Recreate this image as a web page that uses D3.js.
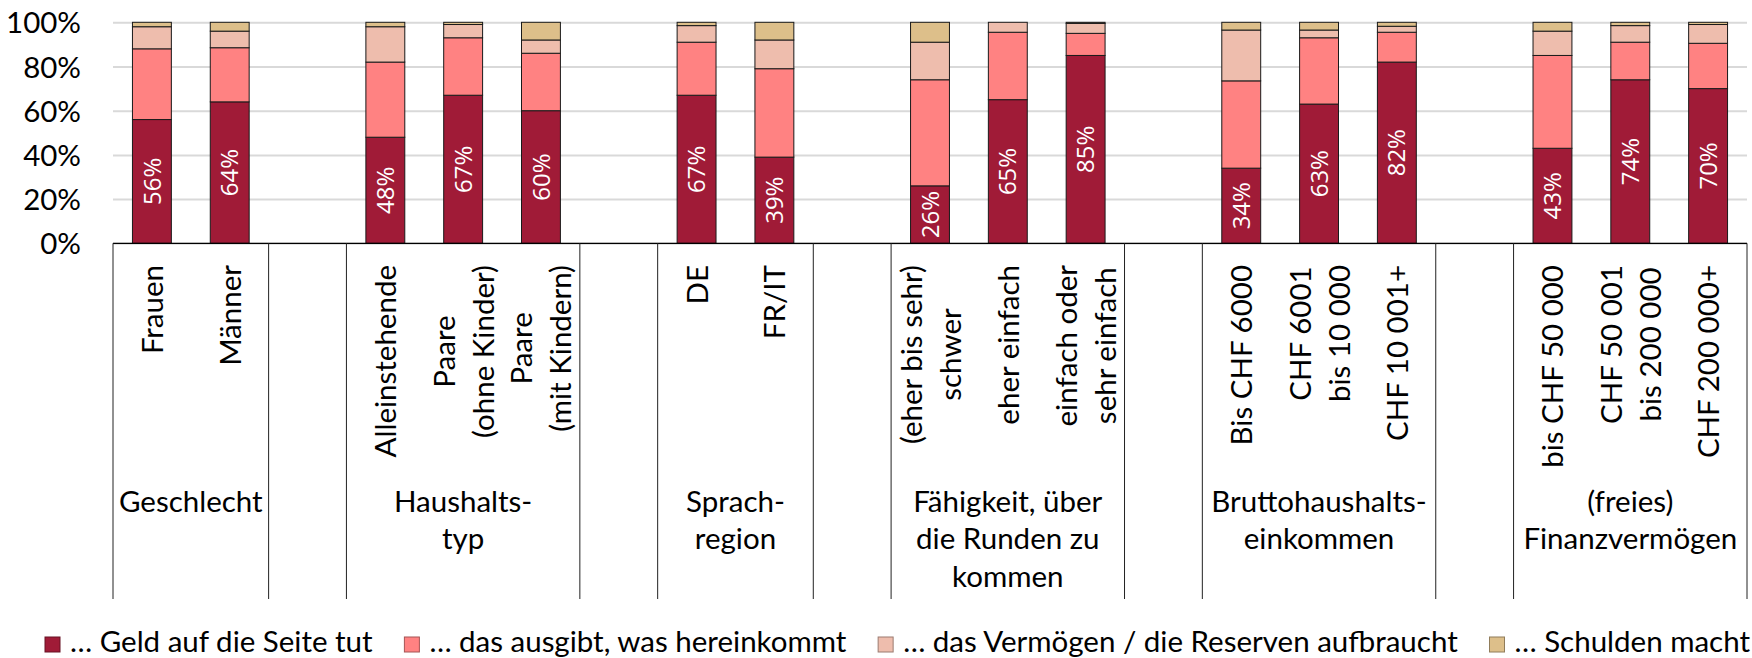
<!DOCTYPE html>
<html>
<head>
<meta charset="utf-8">
<script src="https://cdn.jsdelivr.net/npm/d3@7"></script>
<style>
  body { margin: 0; background: #fff; }
  svg text { font-family: Lato, "Noto Sans", sans-serif; fill: #000; }
</style>
</head>
<body>
<div id="chart"></div>
<script>
const width = 1752;
const height = 658;

// categories, "" = spacer column between groups, "|" = line break
const categories = [
  "Frauen", "Männer", "",
  "Alleinstehende", "Paare|(ohne Kinder)", "Paare|(mit Kindern)", "",
  "DE", "FR/IT", "",
  "(eher bis sehr)|schwer", "eher einfach", "einfach oder|sehr einfach", "",
  "Bis CHF 6000", "CHF 6001|bis 10 000", "CHF 10 001+", "",
  "bis CHF 50 000", "CHF 50 001|bis 200 000", "CHF 200 000+"
];
const categoryGroup = [0, 0, -1, 1, 1, 1, -1, 2, 2, -1, 3, 3, 3, -1, 4, 4, 4, -1, 5, 5, 5];
const groupLabels = [
  "Geschlecht", "Haushalts-|typ", "Sprach-|region",
  "Fähigkeit, über|die Runden zu|kommen", "Bruttohaushalts-|einkommen", "(freies)|Finanzvermögen"
];

const seriesNames = [
  "… Geld auf die Seite tut",
  "… das ausgibt, was hereinkommt",
  "… das Vermögen / die Reserven aufbraucht",
  "… Schulden macht"
];
const seriesColors = ["#a01b37", "#ff8282", "#eebdad", "#ddbf8a"];

// shares in %, null for spacer columns
const sparen      = [56, 64, null, 48, 67, 60, null, 67, 39, null, 26, 65, 85, null, 34, 63, 82, null, 43, 74, 70];
const ausgeben    = [32, 24.5, null, 34, 26, 26, null, 24, 40, null, 48, 30.5, 10, null, 39.5, 30, 13.5, null, 42, 17, 20.5];
const aufbrauchen = [10, 7.5, null, 16, 6, 6, null, 7.5, 13, null, 17, 4.5, 4.5, null, 23, 3.5, 2.7, null, 11, 7.5, 8.5];
const schulden    = [2, 4, null, 2, 1, 8, null, 1.5, 8, null, 9, 0, 0.5, null, 3.5, 3.5, 1.8, null, 4, 1.5, 1];

const yTicks = [0, 20, 40, 60, 80, 100];

const plotLeft = 113, plotRight = 1747, plotTop = 22.3, plotBottom = 243.3;
const axisFont = 29.5;

const svg = d3.select('#chart')
  .append('svg')
  .attr('width', width)
  .attr('height', height);

svg.append('rect').attr('width', width).attr('height', height).attr('fill', '#fff');

const x = d3.scaleBand()
  .domain(d3.range(categories.length))
  .range([plotLeft, plotRight])
  .paddingInner(0.5)
  .paddingOuter(0.25);

const y = d3.scaleLinear().domain([0, 100]).range([plotBottom, plotTop]);

// y axis with gridlines
const yAxis = svg.append('g')
  .attr('transform', `translate(${plotLeft},0)`)
  .call(d3.axisLeft(y)
    .tickValues(yTicks)
    .tickSize(-(plotRight - plotLeft))
    .tickPadding(32)
    .tickFormat(d => d + '%'));
yAxis.select('.domain').remove();
yAxis.selectAll('.tick line').attr('stroke', '#d9d9d9').attr('stroke-width', 2);
yAxis.selectAll('.tick text')
  .attr('font-size', axisFont)
  .attr('dy', '0.36em')
  .style('font-family', 'Lato, sans-serif');

// stacked bars
const rows = categories
  .map((c, i) => ({ idx: i, s0: sparen[i], s1: ausgeben[i], s2: aufbrauchen[i], s3: schulden[i] }))
  .filter(d => d.s0 != null);
const stacked = d3.stack().keys(['s0', 's1', 's2', 's3'])(rows);

svg.append('g')
  .selectAll('g')
  .data(stacked)
  .join('g')
  .attr('fill', (d, i) => seriesColors[i])
  .selectAll('rect')
  .data(d => d)
  .join('rect')
  .attr('x', d => x(d.data.idx))
  .attr('width', x.bandwidth())
  .attr('y', d => y(d[1]))
  .attr('height', d => y(d[0]) - y(d[1]))
  .attr('stroke', '#1a1a1a')
  .attr('stroke-width', 1);

// value labels in the first segment
svg.append('g')
  .selectAll('text')
  .data(rows)
  .join('text')
  .attr('transform', d => `translate(${x(d.idx) + x.bandwidth() / 2},${y(d.s0 / 2)}) rotate(-90)`)
  .attr('text-anchor', 'middle')
  .attr('dy', '0.36em')
  .attr('font-size', 24)
  .style('font-family', '"Open Sans", sans-serif')
  .style('fill', '#fff')
  .text(d => Math.round(d.s0) + '%');

// x axis line and separators
svg.append('line')
  .attr('x1', plotLeft).attr('x2', plotRight)
  .attr('y1', plotBottom).attr('y2', plotBottom)
  .attr('stroke', '#000').attr('stroke-width', 1.2);

const step = x.step();
const bounds = d3.range(categories.length + 1).filter(i =>
  i === 0 || i === categories.length || categoryGroup[i - 1] !== categoryGroup[i]);
svg.append('g')
  .selectAll('line')
  .data(bounds)
  .join('line')
  .attr('x1', i => plotLeft + i * step).attr('x2', i => plotLeft + i * step)
  .attr('y1', plotBottom).attr('y2', 599)
  .attr('stroke', '#222').attr('stroke-width', 1);

// category labels, rotated, lines centred on each other
const catLineH = 39;
categories.forEach((c, i) => {
  if (!c) return;
  const lines = c.split('|');
  const cx = x(i) + x.bandwidth() / 2;
  const g = svg.append('g').attr('transform', `translate(${cx},265) rotate(-90)`);
  const texts = lines.map((t, k) => g.append('text')
    .attr('font-size', axisFont)
    .attr('text-anchor', 'middle')
    .attr('y', (k - (lines.length - 1) / 2) * catLineH + 11)
    .text(t));
  const maxLen = d3.max(texts, t => t.node().getComputedTextLength());
  texts.forEach(t => t.attr('x', -maxLen / 2));
});

// group labels
groupLabels.forEach((label, gi) => {
  const idx = categoryGroup.map((g, i) => g === gi ? i : -1).filter(i => i >= 0);
  const cx = plotLeft + (d3.min(idx) + d3.max(idx) + 1) / 2 * step;
  const t = svg.append('text')
    .attr('text-anchor', 'middle')
    .attr('font-size', axisFont);
  label.split('|').forEach((line, k) => {
    t.append('tspan').attr('x', cx).attr('y', 511.5 + k * 37.5).text(line);
  });
});

// legend, spread between x=45 and x=1750
const legend = svg.append('g');
const items = seriesNames.map((name, i) => {
  const g = legend.append('g');
  g.append('rect')
    .attr('width', 15).attr('height', 15)
    .attr('y', 637)
    .attr('fill', seriesColors[i])
    .attr('stroke', d3.color(seriesColors[i]).darker(1.2))
    .attr('stroke-width', 1);
  const t = g.append('text')
    .attr('x', 25).attr('y', 651.5)
    .attr('font-size', axisFont)
    .text(name);
  return { g, w: 25 + t.node().getComputedTextLength() };
});
const gap = Math.max(12, (1705 - d3.sum(items, d => d.w)) / (items.length - 1));
const total = d3.sum(items, d => d.w) + gap * (items.length - 1);
let lx = (45 + 1750) / 2 - total / 2;
items.forEach(d => {
  d.g.attr('transform', `translate(${lx},0)`);
  lx += d.w + gap;
});
</script>
</body>
</html>
